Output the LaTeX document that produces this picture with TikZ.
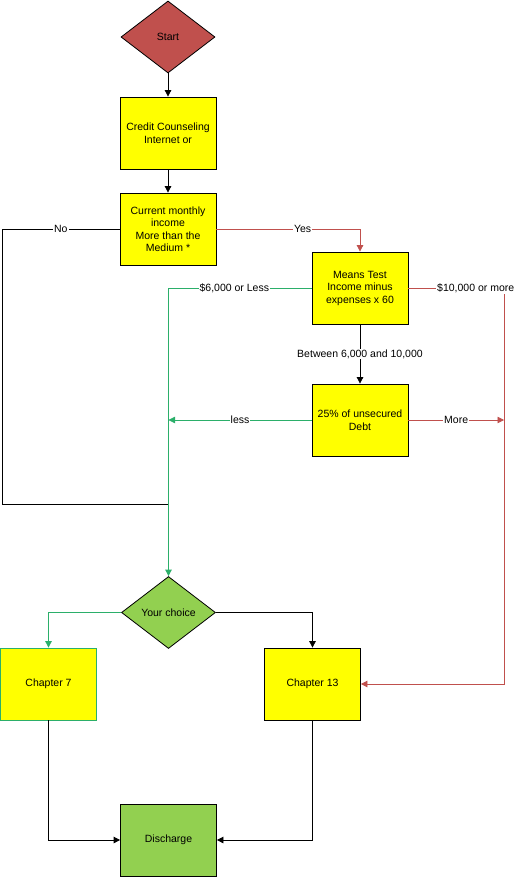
\documentclass[tikz,border=0pt]{standalone}
\usepackage{fontspec}
\setmainfont{Liberation Sans}
\usetikzlibrary{shapes.geometric,arrows.meta}
\definecolor{startred}{HTML}{C0504D}
\definecolor{boxyellow}{HTML}{FFFF00}
\definecolor{choicegreen}{HTML}{92D050}
\definecolor{linegreen}{HTML}{2BAF6A}
\definecolor{linered}{HTML}{C0504D}
\begin{document}
\begin{tikzpicture}[x=1pt, y=-1pt, font=\fontsize{10.5}{12.5}\selectfont,
	box/.style={draw, fill=boxyellow, minimum width=96pt, minimum height=72pt, align=center, inner sep=1pt, line width=0.8pt},
	decision/.style={diamond, draw, minimum width=94pt, minimum height=72pt, inner sep=0pt, line width=0.8pt},
	lbl/.style={fill=white, text=black, inner sep=1pt},
	arrow/.style={-{Triangle[length=6.5pt,width=6.5pt]}},
	redline/.style={linered, line width=0.8pt},
	greenline/.style={linegreen, line width=0.8pt}]
	\useasboundingbox (0,0) rectangle (516,877);
	% nodes
	\node[decision, fill=startred] (start) at (168,37) {Start};
	\node[box] (credit) at (168,133) {Credit Counseling\\Internet or};
	\node[box] (income) at (168,229) {Current monthly\\income\\More than the\\Medium *};
	\node[box] (means) at (360,288) {Means Test\\Income minus\\expenses x 60};
	\node[box] (debt) at (360,420) {25\% of unsecured\\Debt};
	\node[decision, fill=choicegreen] (choice) at (168.5,612.5) {Your choice};
	\node[box, draw=linegreen] (ch7) at (48.5,684) {Chapter 7};
	\node[box] (ch13) at (312.5,684) {Chapter 13};
	\node[box, fill=choicegreen] (discharge) at (168.5,840) {Discharge};
	\coordinate (nocorner) at (2,229);
	\coordinate (join) at (168.5,504);
	\coordinate (lessend) at (168.5,420);
	\coordinate (rightcorner) at (504,288);
	\coordinate (moreend) at (504,420);
	% connectors
	\draw[arrow, line width=0.8pt] (start) -- (credit);
	\draw[arrow, line width=0.8pt] (credit) -- (income);
	\draw[line width=0.8pt] (income.west) -- node[lbl] {No} (nocorner) |- (join);
	\draw[redline, arrow] (income.east) -| node[lbl, pos=0.3] {Yes} (means.north);
	\draw[greenline, arrow] (means.west) -| node[lbl, pos=0.27] {\$6,000 or Less} (choice.north);
	\draw[redline, arrow] (means.east) -- (rightcorner) |- (ch13.east);
	\node[lbl, anchor=west] (morelbl) at (436,288) {\$10,000 or more};
	\draw[arrow, line width=0.8pt] (means) -- node[lbl] {Between 6,000 and 10,000} (debt);
	\draw[greenline, arrow] (debt.west) -- node[lbl] {less} (lessend);
	\draw[redline, arrow] (debt.east) -- node[lbl] {More} (moreend);
	\draw[greenline, arrow] (choice.west) -| (ch7.north);
	\draw[arrow, line width=0.8pt] (choice.east) -| (ch13.north);
	\draw[arrow, line width=0.8pt] (ch7.south) |- (discharge.west);
	\draw[arrow, line width=0.8pt] (ch13.south) |- (discharge.east);
\end{tikzpicture}
\end{document}
